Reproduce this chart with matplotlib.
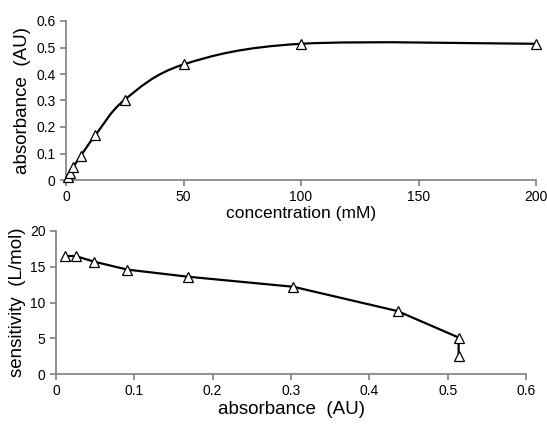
import numpy as np
import matplotlib
matplotlib.use("Agg")
from matplotlib import pyplot as plt
from matplotlib.path import Path
from matplotlib.patches import PathPatch
from matplotlib.ticker import FuncFormatter

plt.rcParams['font.family'] = ['Liberation Sans', 'DejaVu Sans']

# serial dilution, mM
concentration = [0.78, 1.56, 3.125, 6.25, 12.5, 25, 50, 100, 200]
absorbance = [0.012, 0.025, 0.049, 0.091, 0.169, 0.303, 0.436, 0.514, 0.514]
sensitivity = [16.5, 16.5, 15.7, 14.6, 13.6, 12.2, 8.8, 5.1, 2.5]


def smooth_path(x, y):
    # excel style smoothed line (bezier through every point)
    p = np.column_stack([x, y]).astype(float)
    verts = [p[0]]
    codes = [Path.MOVETO]
    n = len(p)
    for i in range(n - 1):
        p0 = p[i - 1] if i > 0 else p[i]
        p3 = p[i + 2] if i + 2 < n else p[i + 1]
        c1 = p[i] + (p[i + 1] - p0) / 6
        c2 = p[i + 1] - (p3 - p[i]) / 6
        verts += [c1, c2, p[i + 1]]
        codes += [Path.CURVE4] * 3
    return Path(verts, codes)


def style(ax):
    for s in ['top', 'right']:
        ax.spines[s].set_visible(False)
    for s in ['left', 'bottom']:
        ax.spines[s].set_color('#7f7f7f')
        ax.spines[s].set_linewidth(1.2)
    ax.tick_params(colors='#7f7f7f', labelcolor='black', labelsize=10,
                   length=4, width=1.2)
    fmt = FuncFormatter(lambda v, _: '%g' % round(v, 3))
    ax.xaxis.set_major_formatter(fmt)
    ax.yaxis.set_major_formatter(fmt)


fig = plt.figure(figsize=(5.47, 4.26), dpi=100)

# top: absorbance vs concentration
ax1 = fig.add_axes([66 / 547, 1 - 180 / 426, 470 / 547, 159 / 426])
ax1.add_patch(PathPatch(smooth_path(concentration, absorbance), fill=False,
                        lw=1.6, color='black', zorder=2))
ax1.plot(concentration, absorbance, ls='none', marker='^', ms=7,
         mfc='white', mec='black', mew=0.9, zorder=3, clip_on=False)
ax1.set_xlim(0, 200)
ax1.set_ylim(0, 0.6)
ax1.set_xticks([0, 50, 100, 150, 200])
ax1.set_yticks(np.arange(0, 0.61, 0.1))
ax1.set_xlabel('concentration (mM)', fontsize=12.5, labelpad=1)
ax1.set_ylabel('absorbance  (AU)', fontsize=13.5, labelpad=4)
style(ax1)

# bottom: sensitivity vs absorbance
ax2 = fig.add_axes([56 / 547, 1 - 374 / 426, 470 / 547, 143 / 426])
ax2.plot(absorbance, sensitivity, color='black', lw=1.6, marker='^', ms=7,
         mfc='white', mec='black', mew=0.9, clip_on=False)
ax2.set_xlim(0, 0.6)
ax2.set_ylim(0, 20)
ax2.set_xticks(np.arange(0, 0.61, 0.1))
ax2.set_yticks([0, 5, 10, 15, 20])
ax2.set_xlabel('absorbance  (AU)', fontsize=13.5, labelpad=2)
ax2.set_ylabel('sensitivity  (L/mol)', fontsize=13.5, labelpad=3)
style(ax2)

fig.savefig('out.png', dpi=100)
